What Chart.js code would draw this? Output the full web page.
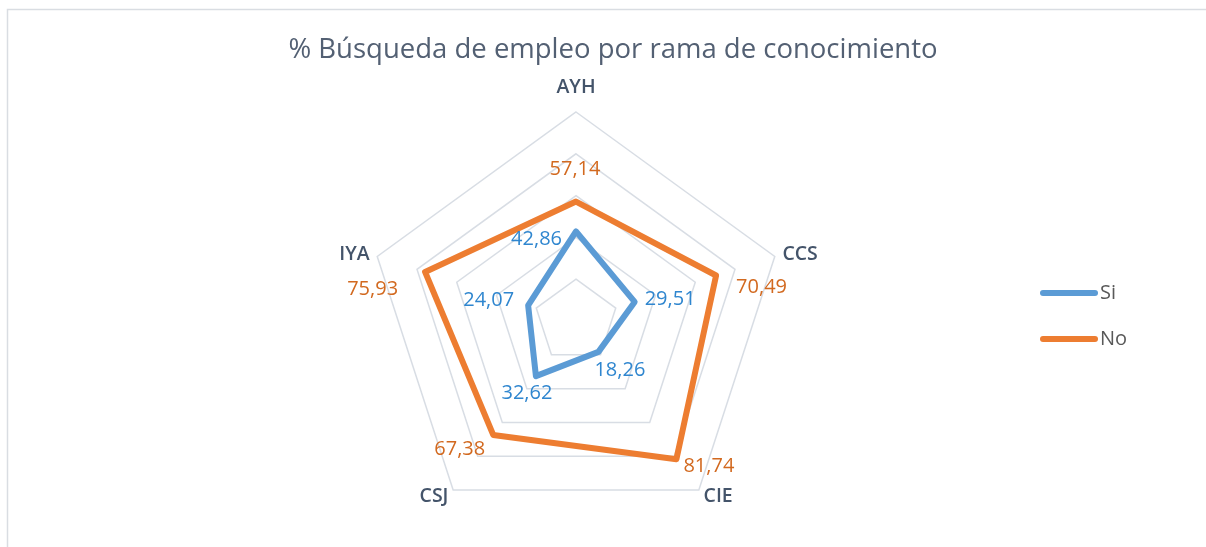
<!DOCTYPE html>
<html>
<head>
<meta charset="utf-8">
<script src="https://cdn.jsdelivr.net/npm/chart.js@4/dist/chart.umd.min.js"></script>
<style>
  html, body { margin: 0; padding: 0; background: #ffffff; }
  #wrap { width: 1206px; height: 547px; position: relative; }
</style>
</head>
<body>
<div id="wrap"><canvas id="c" width="1206" height="547"></canvas></div>
<script>
const chartTitle = '% Búsqueda de empleo por rama de conocimiento';
const categories = ['AYH', 'CCS', 'CIE', 'CSJ', 'IYA'];
const seriesNames = ['Si', 'No'];
const siValues = [42.86, 29.51, 18.26, 32.62, 24.07];
const noValues = [57.14, 70.49, 81.74, 67.38, 75.93];
const scaleTicks = [0, 20, 40, 60, 80, 100];

const colors = { Si: '#5B9BD5', No: '#ED7D31' };
const labelColors = { Si: '#2F86CF', No: '#D2691F' };
// label placement relative to each point: [align, dx, dy]
const labelPlacement = {
  Si: [['right', -14, 8], ['left', 10, -3], ['left', -4, 18], ['center', -9, 17], ['right', -14, -5]],
  No: [['center', -1, -32], ['left', 20, 12], ['left', 7, 7], ['right', -8, 14], ['right', -27, 17]]
};

const decorPlugin = {
  id: 'decor',
  beforeDraw(chart) {
    const ctx = chart.ctx;
    ctx.save();
    ctx.fillStyle = '#ffffff';
    ctx.fillRect(0, 0, chart.width, chart.height);
    ctx.strokeStyle = '#D9DDE2';
    ctx.lineWidth = 1.5;
    ctx.beginPath();
    ctx.moveTo(7.5, chart.height);
    ctx.lineTo(7.5, 9.5);
    ctx.lineTo(chart.width, 9.5);
    ctx.stroke();
    ctx.restore();
  },
  afterDraw(chart) {
    const ctx = chart.ctx;
    const scale = chart.scales.r;
    ctx.save();
    // title
    ctx.fillStyle = '#536073';
    ctx.font = '400 27.5px "Open Sans"';
    ctx.textAlign = 'center';
    ctx.textBaseline = 'middle';
    ctx.fillText(chartTitle, 613, 50);

    // category labels
    ctx.fillStyle = '#44546A';
    ctx.font = '600 19.5px "Open Sans"';
    categories.forEach((c, i) => {
      const ang = scale.getIndexAngle(i);
      const deg = ang * 180 / Math.PI;
      let dist, align;
      if (deg < 1 || deg > 359) { dist = scale.drawingArea + 25; align = 'center'; }
      else { dist = scale.drawingArea + 8; align = deg < 180 ? 'left' : 'right'; }
      const p = scale.getPointPosition(i, dist);
      ctx.textAlign = align;
      ctx.textBaseline = 'middle';
      ctx.fillText(c, p.x, p.y);
    });

    // data labels
    ctx.font = '400 20px "Open Sans"';
    ctx.textBaseline = 'middle';
    chart.data.datasets.forEach((ds, di) => {
      const meta = chart.getDatasetMeta(di);
      const name = ds.label;
      ctx.fillStyle = labelColors[name];
      meta.data.forEach((pt, i) => {
        const pl = labelPlacement[name][i];
        ctx.textAlign = pl[0];
        const txt = ds.data[i].toFixed(2).replace('.', ',');
        ctx.fillText(txt, pt.x + pl[1], pt.y + pl[2]);
      });
    });

    // legend
    ctx.lineCap = 'round';
    ctx.lineWidth = 6;
    ctx.font = '400 20px "Open Sans"';
    ctx.textAlign = 'left';
    ctx.textBaseline = 'middle';
    seriesNames.forEach((n, i) => {
      const y = 293 + i * 46;
      ctx.strokeStyle = colors[n];
      ctx.beginPath();
      ctx.moveTo(1043, y);
      ctx.lineTo(1095, y);
      ctx.stroke();
      ctx.fillStyle = '#595959';
      ctx.fillText(n, 1100, y);
    });
    ctx.restore();
  }
};

new Chart(document.getElementById('c'), {
  type: 'radar',
  data: {
    labels: categories,
    datasets: [
      { label: seriesNames[0], data: siValues, borderColor: colors.Si, backgroundColor: 'transparent',
        borderWidth: 6, pointRadius: 0, pointHoverRadius: 0, fill: false, tension: 0, borderJoinStyle: 'round' },
      { label: seriesNames[1], data: noValues, borderColor: colors.No, backgroundColor: 'transparent',
        borderWidth: 6, pointRadius: 0, pointHoverRadius: 0, fill: false, tension: 0, borderJoinStyle: 'round' }
    ]
  },
  options: {
    responsive: false,
    animation: false,
    layout: { padding: { left: 367, right: 421, top: 112, bottom: 17 } },
    plugins: { legend: { display: false }, title: { display: false }, tooltip: { enabled: false } },
    scales: {
      r: {
        min: scaleTicks[0],
        max: scaleTicks[scaleTicks.length - 1],
        ticks: { display: false, stepSize: scaleTicks[1] - scaleTicks[0] },
        grid: { color: '#D8DDE4', lineWidth: 1.5, circular: false },
        angleLines: { display: false },
        pointLabels: { display: false }
      }
    }
  },
  plugins: [decorPlugin]
});
</script>
</body>
</html>
